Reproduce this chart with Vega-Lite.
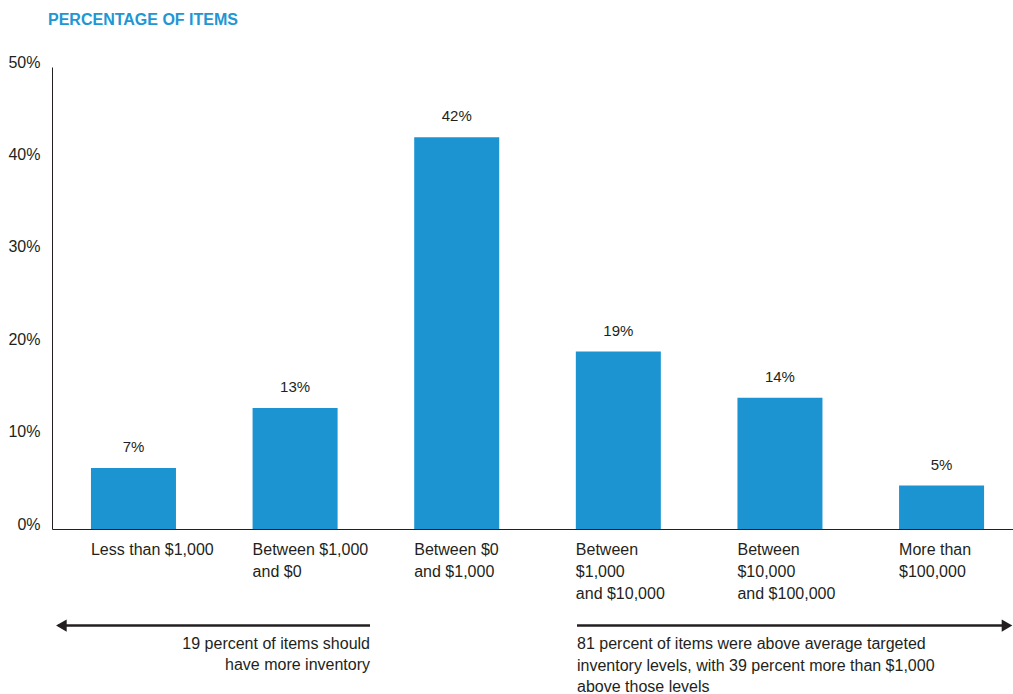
{
  "$schema": "https://vega.github.io/schema/vega-lite/v6.json",
  "width": 961,
  "height": 462,
  "autosize": {"type": "none"},
  "padding": {"left": 52, "top": 67, "right": 0, "bottom": 165},
  "background": "white",
  "config": {"view": {"stroke": null}, "font": "Liberation Sans"},
  "title": {
    "text": "PERCENTAGE OF ITEMS",
    "anchor": "start",
    "frame": "group",
    "font": "Liberation Sans",
    "fontSize": 16,
    "fontWeight": "bold",
    "color": "#2196d3",
    "dx": -4,
    "offset": 26
  },
  "datasets": {
    "bars": [
      {"cat": "Less than $1,000", "v": 6.6, "lab": "7%"},
      {"cat": "Between $1,000|and $0", "v": 13.1, "lab": "13%"},
      {"cat": "Between $0|and $1,000", "v": 42.4, "lab": "42%"},
      {"cat": "Between|$1,000|and $10,000", "v": 19.2, "lab": "19%"},
      {"cat": "Between|$10,000|and $100,000", "v": 14.2, "lab": "14%"},
      {"cat": "More than|$100,000", "v": 4.7, "lab": "5%"}
    ],
    "lines": [
      {"x1": 0.04, "x2": 1.968, "y": -10.45},
      {"x1": 3.249, "x2": 5.9, "y": -10.45}
    ],
    "heads": [
      {"x": 0.058, "y": -10.45, "shape": "triangle-left"},
      {"x": 5.91, "y": -10.45, "shape": "triangle-right"}
    ],
    "leftText": [
      {"x": 1.968, "y": -11.6, "t": "19 percent of items should|have more inventory"}
    ],
    "rightText": [
      {"x": 3.249, "y": -11.6, "t": "81 percent of items were above average targeted|inventory levels, with 39 percent more than $1,000|above those levels"}
    ]
  },
  "layer": [
    {
      "data": {"name": "bars"},
      "layer": [
        {
          "mark": {"type": "bar", "color": "#1c94d2"},
          "encoding": {
            "x": {
              "field": "cat", "type": "nominal", "sort": null,
              "scale": {"paddingInner": 0.474, "paddingOuter": 0.21, "align": 0.574},
              "axis": {
                "title": null,
                "labelAngle": 0,
                "labelExpr": "split(datum.label, '|')",
                "labelAlign": "left",
                "labelBaseline": "top",
                "labelOffset": -42.5,
                "labelPadding": 12,
                "labelFontSize": 16,
                "labelLineHeight": 22,
                "labelColor": "#231f20",
                "labelFont": "Liberation Sans",
                "ticks": false,
                "domainColor": "#231f20",
                "domainWidth": 1,
                "labelLimit": 300
              }
            },
            "y": {
              "field": "v", "type": "quantitative",
              "scale": {"domain": [0, 50], "nice": false, "zero": true},
              "axis": {
                "title": null,
                "values": [0, 10, 20, 30, 40, 50],
                "labelExpr": "datum.value + '%'",
                "grid": false,
                "ticks": false,
                "labelPadding": 12,
                "labelFontSize": 16,
                "labelColor": "#231f20",
                "labelBaseline": "alphabetic",
                "labelFont": "Liberation Sans",
                "domainColor": "#231f20",
                "domainWidth": 1
              }
            }
          }
        },
        {
          "mark": {"type": "text", "baseline": "alphabetic", "dy": -16, "fontSize": 15, "color": "#231f20", "font": "Liberation Sans"},
          "encoding": {
            "x": {"field": "cat", "type": "nominal", "sort": null},
            "y": {"field": "v", "type": "quantitative"},
            "text": {"field": "lab"}
          }
        }
      ]
    },
    {
      "data": {"name": "lines"},
      "mark": {"type": "rule", "strokeWidth": 2.5, "color": "#231f20"},
      "encoding": {
        "x": {"field": "x1", "type": "quantitative", "scale": {"domain": [0, 5.947], "nice": false, "zero": false}, "axis": null},
        "x2": {"field": "x2"},
        "y": {"field": "y", "type": "quantitative"}
      }
    },
    {
      "data": {"name": "heads"},
      "mark": {"type": "point", "filled": true, "size": 150, "color": "#231f20", "opacity": 1},
      "encoding": {
        "x": {"field": "x", "type": "quantitative", "scale": {"domain": [0, 5.947], "nice": false, "zero": false}, "axis": null},
        "y": {"field": "y", "type": "quantitative"},
        "shape": {"field": "shape", "type": "nominal", "scale": null, "legend": null}
      }
    },
    {
      "data": {"name": "leftText"},
      "mark": {"type": "text", "align": "right", "baseline": "top", "lineBreak": "|", "lineHeight": 21, "fontSize": 16, "color": "#231f20", "font": "Liberation Sans"},
      "encoding": {
        "x": {"field": "x", "type": "quantitative", "scale": {"domain": [0, 5.947], "nice": false, "zero": false}, "axis": null},
        "y": {"field": "y", "type": "quantitative"},
        "text": {"field": "t"}
      }
    },
    {
      "data": {"name": "rightText"},
      "mark": {"type": "text", "align": "left", "baseline": "top", "lineBreak": "|", "lineHeight": 21.5, "fontSize": 16, "color": "#231f20", "font": "Liberation Sans"},
      "encoding": {
        "x": {"field": "x", "type": "quantitative", "scale": {"domain": [0, 5.947], "nice": false, "zero": false}, "axis": null},
        "y": {"field": "y", "type": "quantitative"},
        "text": {"field": "t"}
      }
    }
  ],
  "resolve": {"scale": {"x": "independent"}, "axis": {"x": "independent"}}
}
